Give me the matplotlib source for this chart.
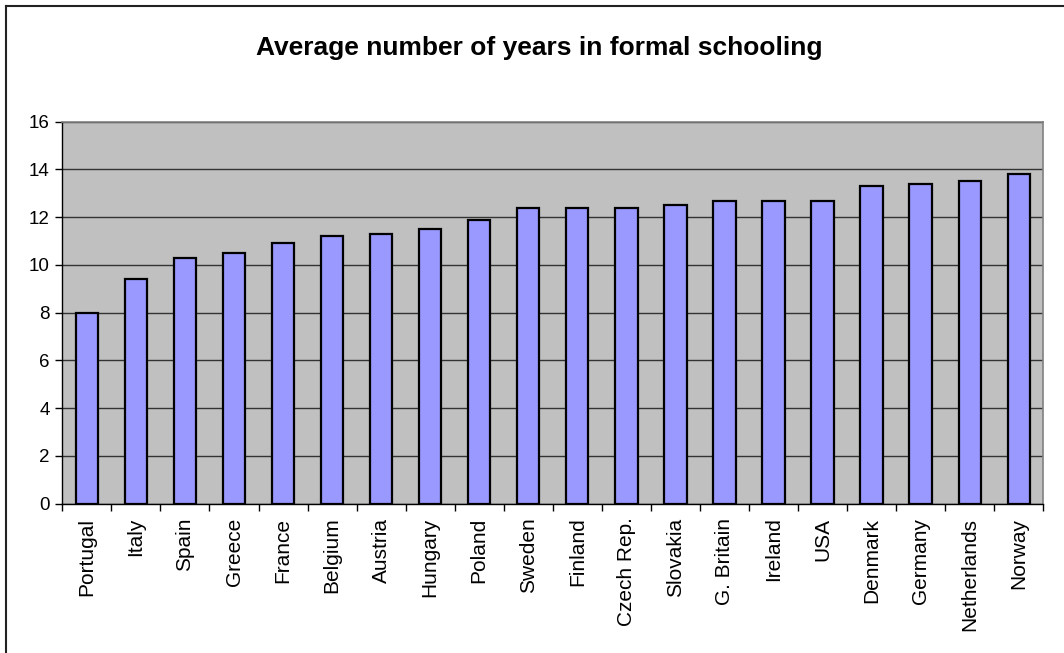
import matplotlib
matplotlib.use("Agg")
import matplotlib.pyplot as plt
from matplotlib.lines import Line2D
import numpy as np

plt.rcParams['font.family'] = ['Liberation Sans', 'DejaVu Sans']

countries = ["Portugal", "Italy", "Spain", "Greece", "France", "Belgium",
             "Austria", "Hungary", "Poland", "Sweden", "Finland", "Czech Rep.",
             "Slovakia", "G. Britain", "Ireland", "USA", "Denmark", "Germany",
             "Netherlands", "Norway"]
years = [8.0, 9.4, 10.3, 10.5, 10.9, 11.2, 11.3, 11.5, 11.9, 12.4,
         12.4, 12.4, 12.5, 12.7, 12.7, 12.7, 13.3, 13.4, 13.5, 13.8]
y_ticks = [0, 2, 4, 6, 8, 10, 12, 14, 16]

fig = plt.figure(figsize=(10.64, 6.53), dpi=100)
ax = fig.add_axes([0.0586, 0.2286, 0.9219, 0.585])
ax.set_facecolor("#C0C0C0")

x = np.arange(len(countries))
ax.bar(x, years, width=0.455, color="#9999FF", edgecolor="black",
       linewidth=1.6, zorder=3)

# gridlines
ax.set_yticks(y_ticks)
ax.yaxis.grid(True, color="#333333", linewidth=1.0, zorder=1)
ax.set_ylim(0, 16)
ax.set_xlim(-0.5, len(countries) - 0.5)

# category labels centred under bars, ticks between categories
ax.set_xticks(x)
ax.set_xticklabels(countries, rotation=90, fontsize=15)
ax.tick_params(axis="x", length=0, pad=10)
ax.set_xticks(np.arange(-0.5, len(countries)), minor=True)
ax.tick_params(axis="x", which="minor", length=5, width=1, direction="out")
ax.tick_params(axis="y", labelsize=13.5, length=5, width=1, pad=4)

for side in ["top", "right"]:
    ax.spines[side].set_color("#808080")
    ax.spines[side].set_linewidth(1.2)
for side in ["left", "bottom"]:
    ax.spines[side].set_color("black")
    ax.spines[side].set_linewidth(1.0)

fig.text(0.507, 0.927, "Average number of years in formal schooling",
         ha="center", va="center", fontsize=19, fontweight="bold")

# chart border
fig.add_artist(Line2D([6 / 1064, 1], [1 - 5.5 / 653, 1 - 5.5 / 653],
                      color="#222222", linewidth=1.5))
fig.add_artist(Line2D([6 / 1064, 6 / 1064], [0, 1 - 5.5 / 653],
                      color="#222222", linewidth=1.5))

fig.savefig("out.png", dpi=100)
